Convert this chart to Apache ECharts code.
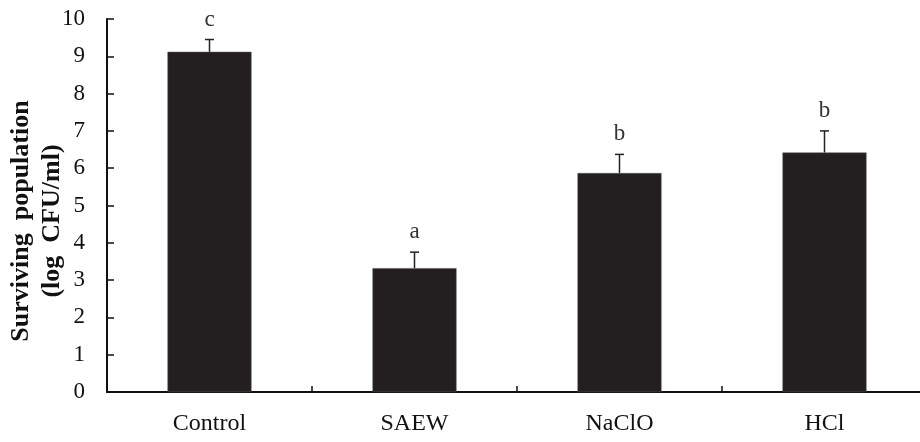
<!DOCTYPE html>
<html>
<head>
<meta charset="utf-8">
<script src="https://cdn.jsdelivr.net/npm/echarts@6/dist/echarts.min.js"></script>
<style>
  html, body { margin: 0; padding: 0; background: #fff; }
  #chart { width: 920px; height: 442px; }
</style>
</head>
<body>
<div id="chart"></div>
<script>
// 处理组
var categories = ['Control', 'SAEW', 'NaClO', 'HCl'];
// 存活菌数 (log CFU/ml)
var means = [9.12, 3.32, 5.87, 6.42];
// 标准差（只画上半部分）
var errors = [0.33, 0.43, 0.5, 0.58];
// 显著性字母
var letters = ['c', 'a', 'b', 'b'];
var yTicks = [0, 1, 2, 3, 4, 5, 6, 7, 8, 9, 10];
var yTitle = 'Surviving  population\n(log  CFU/ml)';

var chart = echarts.init(document.getElementById('chart'));
var serif = '"Liberation Serif", "DejaVu Serif", serif';

var option = {
    animation: false,
    grid: {
        left: 107,
        top: 19,
        width: 820,
        height: 373,
        containLabel: false,
        outerBoundsMode: 'none'
    },
    // y轴标题，两行加粗
    graphic: [
        {
            type: 'text',
            x: 37,
            y: 221,
            rotation: Math.PI / 2,
            style: {
                text: yTitle,
                fill: '#111',
                font: 'bold 26px ' + serif,
                lineHeight: 31,
                align: 'center',
                verticalAlign: 'middle'
            }
        }
    ],
    xAxis: {
        type: 'category',
        data: categories,
        boundaryGap: true,
        axisLine: { lineStyle: { color: '#111', width: 2 } },
        axisTick: { show: true, inside: true, length: 6, interval: 0, lineStyle: { color: '#111', width: 1.5 } },
        axisLabel: { color: '#111', fontFamily: serif, fontSize: 24, margin: 20 }
    },
    yAxis: {
        type: 'value',
        min: yTicks[0],
        max: yTicks[yTicks.length - 1],
        interval: 1,
        splitLine: { show: false },
        axisLine: { show: true, lineStyle: { color: '#111', width: 2 } },
        axisTick: { show: true, inside: true, length: 7, lineStyle: { color: '#111', width: 1.5 } },
        axisLabel: { color: '#111', fontFamily: serif, fontSize: 23, margin: 22 }
    },
    series: [
        {
            type: 'bar',
            data: means,
            barWidth: 84,
            itemStyle: { color: '#231f20', borderColor: '#555', borderWidth: 0.5 }
        },
        {
            // 误差线 + 字母
            type: 'custom',
            data: means.map(function (m, i) { return [i, m, m + errors[i]]; }),
            z: 5,
            renderItem: function (params, api) {
                var p0 = api.coord([api.value(0), api.value(1)]);
                var p1 = api.coord([api.value(0), api.value(2)]);
                var half = 4.5;
                return {
                    type: 'group',
                    children: [
                        { type: 'line', shape: { x1: p0[0], y1: p0[1], x2: p1[0], y2: p1[1] }, style: { stroke: '#222', lineWidth: 1.5 } },
                        { type: 'line', shape: { x1: p1[0] - half, y1: p1[1], x2: p1[0] + half, y2: p1[1] }, style: { stroke: '#222', lineWidth: 1.5 } },
                        {
                            type: 'text',
                            x: p1[0], y: p1[1] - 20,
                            style: {
                                text: letters[params.dataIndex],
                                fill: '#333',
                                font: '23px ' + serif,
                                align: 'center',
                                verticalAlign: 'middle'
                            }
                        }
                    ]
                };
            }
        }
    ]
};
chart.setOption(option);
</script>
</body>
</html>
